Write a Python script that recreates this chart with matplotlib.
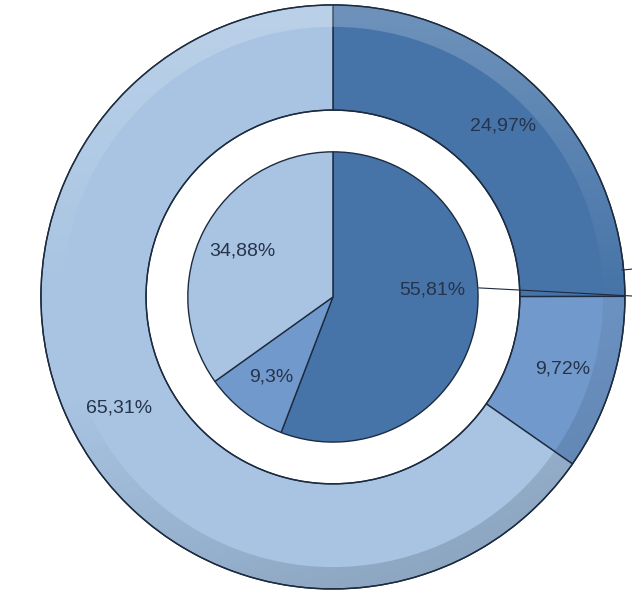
import numpy as np
import matplotlib.pyplot as plt
from matplotlib.patches import Wedge

plt.rcParams['font.family'] = ['Liberation Sans', 'DejaVu Sans']

# outer ring (clockwise from 12 o'clock)
outer_labels = ['24,97%', '9,72%', '65,31%']
outer_values = [24.97, 9.72, 65.31]
# inner pie (clockwise from 12 o'clock)
inner_labels = ['55,81%', '9,3%', '34,88%']
inner_values = [55.81, 9.3, 34.88]

dark = '#4674a8'
mid = '#7199cb'
light = '#a8c4e2'
edge = '#1c2b3f'
txt = '#26334a'

fig = plt.figure(figsize=(6.32, 5.98), dpi=100)
ax = fig.add_axes([0, 0, 1, 1])

# outer donut
wedges_o, texts_o = ax.pie(outer_values, labels=outer_labels, colors=[dark, mid, light],
                           startangle=90, counterclock=False, radius=1.0,
                           labeldistance=0.825,
                           wedgeprops=dict(width=0.36, edgecolor=edge, linewidth=1.0))

# bevel on the outer rim: lighter on top, darker at the bottom right
n = 400
xx, yy = np.meshgrid(np.linspace(-1, 1, n), np.linspace(-1, 1, n))
shade = np.zeros((n, n, 4))
top = np.clip(yy, 0, 1)
bot = np.clip(-yy * 0.8 + xx * 0.3, 0, 1)
shade[..., :3] = np.where((top > 0)[..., None], [1, 1, 1], [0.16, 0.22, 0.3])
shade[..., 3] = np.where(top > 0, 0.22 * top, 0.25 * bot)
rim = Wedge((0, 0), 1.0, 0, 360, width=0.075, transform=ax.transData)
im = ax.imshow(shade, extent=(-1, 1, -1, 1), origin='lower', zorder=2)
im.set_clip_path(rim)
ax.add_patch(Wedge((0, 0), 1.0, 0, 360, width=0.36, facecolor='none',
                   edgecolor=edge, linewidth=1.0, zorder=3))

# inner pie
wedges_i, texts_i = ax.pie(inner_values, labels=inner_labels, colors=[dark, mid, light],
                           startangle=90, counterclock=False, radius=0.497,
                           labeldistance=0.70,
                           wedgeprops=dict(edgecolor=edge, linewidth=1.0))

for t in texts_o + texts_i:
    t.set_ha('center')
    t.set_va('center')
    t.set_fontsize(14)
    t.set_color(txt)
    t.set_zorder(5)
# the big slice's label sits a bit higher
ang = np.radians(4)
texts_i[0].set_position((0.34 * np.cos(ang), 0.34 * np.sin(ang)))

# leader lines running off the right edge
ax.plot([0.50, 1.03], [0.031, 0.003], color=edge, linewidth=0.8, zorder=4)
ax.plot([0.99, 1.03], [0.092, 0.096], color=edge, linewidth=0.8, zorder=4)

ax.set_xlim(-1.140, 1.024)
ax.set_ylim(-1.031, 1.017)
ax.set_aspect('equal')
ax.axis('off')

fig.savefig('out.png', dpi=100)
